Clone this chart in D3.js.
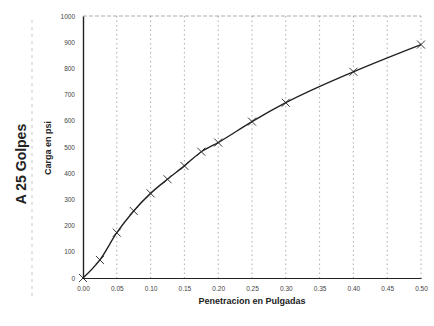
<!DOCTYPE html>
<html><head><meta charset="utf-8">
<script src="https://cdn.jsdelivr.net/npm/d3@7"></script>
<style>body{margin:0;background:#fff}svg{display:block}</style>
</head><body>
<script>
const penetration = [0.000, 0.025, 0.050, 0.075, 0.100, 0.125, 0.150, 0.175, 0.200, 0.250, 0.300, 0.400, 0.500];
const load = [0, 69, 173, 256, 323, 377, 428, 482, 517, 597, 669, 787, 891];
const xTicks = [0, 0.05, 0.10, 0.15, 0.20, 0.25, 0.30, 0.35, 0.40, 0.45, 0.50];
const yTicks = [0, 100, 200, 300, 400, 500, 600, 700, 800, 900, 1000];
const sideTitle = "A 25 Golpes";
const yTitle = "Carga en psi";
const xTitle = "Penetracion en Pulgadas";

const W = 434, H = 326;
const svg = d3.select("body").append("svg").attr("width", W).attr("height", H);
const x = d3.scaleLinear().domain([0, 0.5]).range([83, 421]);
const y = d3.scaleLinear().domain([0, 1000]).range([278, 16]);
const ink = "#222";
const font = "Arial, 'Liberation Sans', sans-serif";

// faint scan artifact line on the left
svg.append("line").attr("x1", 32).attr("x2", 32).attr("y1", 20).attr("y2", 300)
  .attr("stroke", "#bbb").attr("stroke-width", 0.8).attr("stroke-dasharray", "3,4");

// vertical dotted gridlines
svg.append("g").selectAll("line").data(xTicks.slice(1)).join("line")
  .attr("x1", d => x(d)).attr("x2", d => x(d))
  .attr("y1", y(1000)).attr("y2", y(0))
  .attr("stroke", "#999").attr("stroke-width", 0.8).attr("stroke-dasharray", "1.5,3");

// top border dashed
svg.append("line").attr("x1", x(0)).attr("x2", x(0.5)).attr("y1", y(1000)).attr("y2", y(1000))
  .attr("stroke", "#999").attr("stroke-width", 0.8).attr("stroke-dasharray", "4,2");

// axes
const xAxis = d3.axisBottom(x).tickValues(xTicks).tickFormat(d3.format(".2f")).tickSize(0).tickPadding(8);
const gx = svg.append("g").attr("transform", `translate(0,${y(0)})`).call(xAxis);
gx.select(".domain").attr("stroke", ink).attr("stroke-width", 1.2);
gx.selectAll("text").attr("font-family", font).attr("font-size", 6.5).attr("fill", "#444");

const yAxis = d3.axisLeft(y).tickValues(yTicks).tickFormat(d3.format("d")).tickSize(0).tickPadding(8);
const gy = svg.append("g").attr("transform", `translate(${x(0)},0)`).call(yAxis);
gy.select(".domain").attr("stroke", ink).attr("stroke-width", 1.4);
gy.selectAll("text").attr("font-family", font).attr("font-size", 6.5).attr("fill", "#444");

// curve
const line = d3.line().x((d, i) => x(penetration[i])).y(d => y(d)).curve(d3.curveMonotoneX);
svg.append("path").datum(load).attr("d", line).attr("fill", "none")
  .attr("stroke", ink).attr("stroke-width", 1.4);

// X markers
const s = 4;
svg.append("g").selectAll("path").data(load).join("path")
  .attr("d", (d, i) => {
    const cx = x(penetration[i]), cy = y(d);
    return `M${cx - s},${cy - s}L${cx + s},${cy + s}M${cx - s},${cy + s}L${cx + s},${cy - s}`;
  })
  .attr("stroke", ink).attr("stroke-width", 0.9).attr("fill", "none");

// titles
svg.append("text").attr("transform", "translate(26,164) rotate(-90)")
  .attr("text-anchor", "middle").attr("font-family", font).attr("font-weight", "bold")
  .attr("font-size", 14).attr("fill", ink).text(sideTitle);
svg.append("text").attr("transform", "translate(51,148) rotate(-90)")
  .attr("text-anchor", "middle").attr("font-family", font).attr("font-weight", "bold")
  .attr("font-size", 9).attr("fill", ink).text(yTitle);
svg.append("text").attr("x", 252).attr("y", 304)
  .attr("text-anchor", "middle").attr("font-family", font).attr("font-weight", "bold")
  .attr("font-size", 9).attr("fill", ink).text(xTitle);
</script>
</body></html>
